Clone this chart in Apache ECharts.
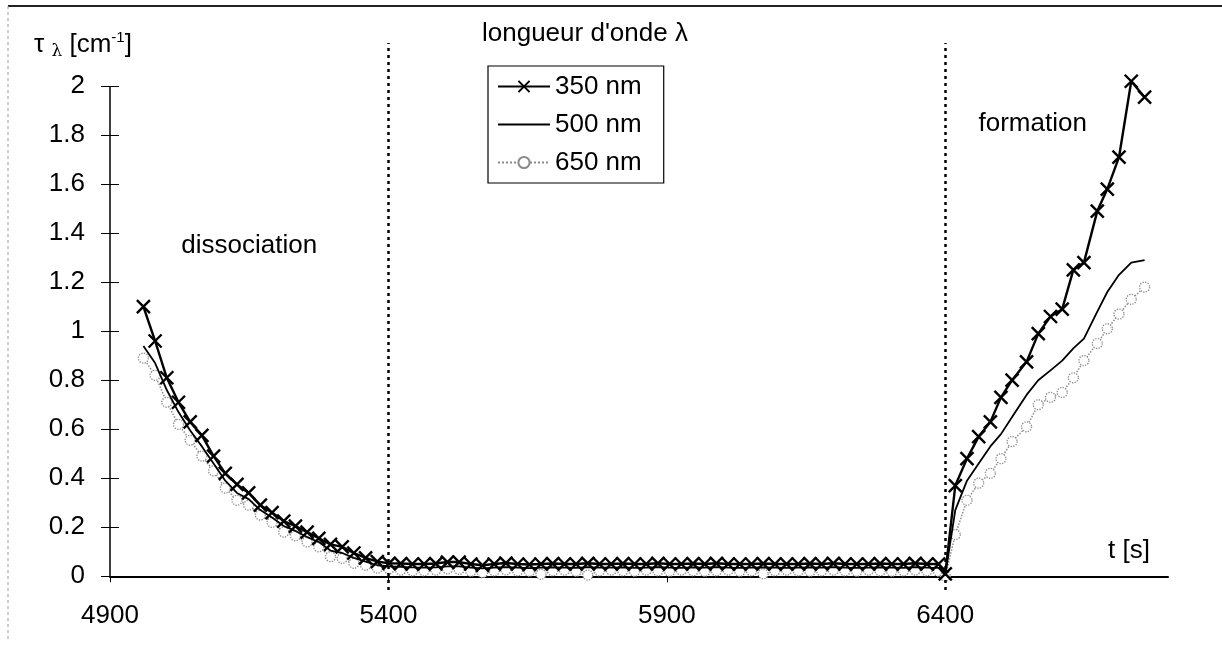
<!DOCTYPE html>
<html>
<head>
<meta charset="utf-8">
<script src="https://cdn.jsdelivr.net/npm/echarts@6/dist/echarts.min.js"></script>
<style>
html,body{margin:0;padding:0;background:#fff;}
#chart{width:1222px;height:652px;}
</style>
</head>
<body>
<div id="chart"></div>
<script>
// ---- data ----
const times = [
  4960,4981,5002,5023,5044,5065,5086,5107,5128,5149,5170,5191,5212,5233,5254,5275,5296,5317,5338,5359,5380,5401,5422,5443,
  5464,5485,5506,5527,5548,5569,5590,5611,5632,5653,
  5674,5695,5716,5737,5758,5779,5800,5821,5842,5863,
  5884,5905,5926,5947,5968,5989,6010,6031,6052,6073,
  6094,6115,6136,6157,6178,6199,6220,6241,6262,6283,
  6304,6325,6346,6367,6388,
  6400,
  6418,6439,6460,6481,6500,6520,6546,6567,6589,6610,6630,6649,6673,6691,6712,6734,6758
];
const v350 = [
  1.10,0.96,0.81,0.71,0.63,0.575,0.49,0.42,0.375,0.34,0.29,0.26,0.225,0.205,0.18,0.155,0.13,0.12,0.095,0.075,0.06,0.053,0.052,0.05,
  0.05,0.052,0.058,0.058,0.05,0.045,0.05,0.054,0.05,0.048,
  0.05,0.052,0.05,0.05,0.053,0.05,0.05,0.052,0.05,0.05,
  0.053,0.05,0.05,0.052,0.05,0.053,0.05,0.05,0.05,0.052,
  0.05,0.05,0.05,0.052,0.05,0.053,0.05,0.05,0.05,0.052,
  0.05,0.05,0.053,0.05,0.05,
  0.01,
  0.37,0.48,0.57,0.63,0.73,0.80,0.875,0.99,1.06,1.09,1.25,1.28,1.49,1.58,1.71,2.02,1.955
];
const v500 = [
  0.94,0.87,0.76,0.67,0.595,0.53,0.46,0.39,0.34,0.315,0.27,0.24,0.205,0.185,0.16,0.14,0.105,0.095,0.075,0.06,0.045,0.04,0.038,0.036,
  0.035,0.036,0.04,0.04,0.035,0.032,0.035,0.037,0.035,0.033,
  0.035,0.036,0.035,0.034,0.037,0.035,0.035,0.036,0.034,0.035,
  0.037,0.035,0.034,0.036,0.035,0.037,0.035,0.034,0.035,0.036,
  0.035,0.034,0.035,0.036,0.035,0.037,0.035,0.034,0.035,0.036,
  0.035,0.034,0.037,0.035,0.034,
  0.005,
  0.27,0.39,0.46,0.53,0.58,0.65,0.74,0.80,0.84,0.88,0.93,0.97,1.08,1.16,1.23,1.28,1.29
];
const v650 = [
  0.89,0.82,0.71,0.62,0.555,0.49,0.43,0.36,0.31,0.29,0.25,0.22,0.18,0.165,0.14,0.12,0.08,0.073,0.053,0.045,0.033,0.03,0.025,0.022,
  0.022,0.025,0.03,0.028,0.02,0.015,0.022,0.026,0.022,0.02,
  0.008,0.022,0.025,0.02,0.005,0.022,0.025,0.022,0.02,0.025,
  0.022,0.02,0.025,0.022,0.02,0.022,0.025,0.02,0.022,0.01,
  0.022,0.025,0.022,0.02,0.022,0.025,0.022,0.02,0.025,0.022,
  0.02,0.022,0.025,0.022,0.02,
  0.0,
  0.17,0.31,0.38,0.42,0.48,0.55,0.61,0.70,0.73,0.75,0.81,0.88,0.95,1.01,1.07,1.13,1.18
];
const seriesNames = ['350 nm', '500 nm', '650 nm'];
const xTicks = [4900, 5400, 5900, 6400];
const yTicks = [0, 0.2, 0.4, 0.6, 0.8, 1, 1.2, 1.4, 1.6, 1.8, 2];
const phaseLines = [5400, 6400];
const titleText = "longueur d'onde λ";
const annotations = ['dissociation', 'formation'];

// ---- chart ----
const FONT = 'Liberation Sans, Arial, sans-serif';
const FS = 26;
const chart = echarts.init(document.getElementById('chart'), null, {renderer: 'canvas'});
const pairs = v => times.map((t, i) => [t, v[i]]);
const gray = '#8a8a8a';
const X_MIN = 4900, X_MAX = 6800, Y_MIN = -0.056, Y_MAX = 2.176;

const option = {
  backgroundColor: '#fff',
  animation: false,
  textStyle: {fontFamily: FONT, color: '#000'},
  title: {
    text: titleText, left: 482, top: 21, padding: 0,
    textStyle: {fontFamily: FONT, fontSize: FS, fontWeight: 'normal', color: '#000'}
  },
  legend: {
    data: seriesNames, orient: 'vertical', left: 488, top: 66,
    padding: [7, 22, 7, 9], itemGap: 11, itemWidth: 52, itemHeight: 14,
    borderColor: '#000', borderWidth: 1.2, backgroundColor: '#fff',
    textStyle: {fontFamily: FONT, fontSize: FS, color: '#000', lineHeight: 27}
  },
  grid: {left: 110, right: 54, top: 43, bottom: 62, containLabel: false},
  xAxis: {
    type: 'value', min: X_MIN, max: X_MAX,
    name: 't [s]', nameLocation: 'end', nameGap: -18,
    nameTextStyle: {fontFamily: FONT, fontSize: FS, color: '#000', align: 'right', verticalAlign: 'bottom', lineHeight: 26, padding: [0, 0, 12, 0]},
    axisLine: {show: true, onZero: true, lineStyle: {color: '#000', width: 2}},
    axisTick: {show: true, length: 6, lineStyle: {color: '#000', width: 1}, customValues: xTicks},
    axisLabel: {fontFamily: FONT, fontSize: FS, color: '#000', margin: 13, customValues: xTicks, formatter: v => String(v)},
    splitLine: {show: false}
  },
  yAxis: [{
    type: 'value', min: Y_MIN, max: Y_MAX,
    axisLine: {show: false},
    axisTick: {show: true, length: 9, lineStyle: {color: '#000', width: 1}, customValues: yTicks},
    axisLabel: {fontFamily: FONT, fontSize: FS, color: '#000', margin: 25, customValues: yTicks, formatter: v => String(v)},
    splitLine: {show: false}
  }, {
    type: 'value', min: Y_MIN, max: Y_MAX, position: 'left',
    axisLine: {show: false},
    axisTick: {show: true, inside: true, length: 9, lineStyle: {color: '#000', width: 1}, customValues: yTicks},
    axisLabel: {show: false},
    splitLine: {show: false}
  }],
  graphic: [
    {type: 'line', shape: {x1: 8, y1: 6, x2: 1222, y2: 6}, style: {stroke: '#222', lineWidth: 2}, silent: true},
    {type: 'line', shape: {x1: 8, y1: 6, x2: 8, y2: 640}, style: {stroke: '#999', lineWidth: 1, lineDash: [3, 3]}, silent: true},
    {
      type: 'text', left: 34, top: 30, silent: true,
      style: {
        text: '{t|τ }{s|λ}{t| [cm}{p|-1}{t|]}',
        rich: {
          t: {fontFamily: FONT, fontSize: FS, lineHeight: 30, verticalAlign: 'middle', fill: '#000'},
          s: {fontFamily: 'DejaVu Serif, serif', fontSize: 17, lineHeight: 30, verticalAlign: 'bottom', fill: '#000'},
          p: {fontFamily: FONT, fontSize: 15, lineHeight: 30, verticalAlign: 'top', fill: '#000'}
        }
      }
    }
  ],
  series: [
    {
      name: seriesNames[0], type: 'line', data: pairs(v350), z: 5, clip: false,
      symbol: 'path://M0,0L10,10M10,0L0,10', symbolSize: 13, showAllSymbol: true,
      itemStyle: {color: '#000', borderColor: '#000', borderWidth: 2.4},
      lineStyle: {color: '#000', width: 2.4}
    },
    {
      name: seriesNames[1], type: 'line', data: pairs(v500), z: 4, clip: false,
      symbol: 'none', itemStyle: {color: '#000', opacity: 0},
      lineStyle: {color: '#000', width: 1.8, opacity: 1},
      markPoint: {
        symbol: 'circle', symbolSize: 0, silent: true,
        itemStyle: {opacity: 1},
        label: {show: true, position: 'inside', fontFamily: FONT, fontSize: FS, color: '#000', formatter: p => p.name},
        data: [
          {name: annotations[0], coord: [5150, 1.35]},
          {name: annotations[1], coord: [6557, 1.845]}
        ]
      },
      markLine: {
        symbol: 'none', silent: true, label: {show: false},
        lineStyle: {color: '#000', width: 2.5, type: [3, 4], opacity: 1},
        data: phaseLines.map(x => [{coord: [x, Y_MIN]}, {coord: [x, Y_MAX]}]).concat([
          [{coord: [X_MIN, 0], lineStyle: {type: 'solid', width: 1.5}}, {coord: [X_MIN, 2]}]
        ])
      }
    },
    {
      name: seriesNames[2], type: 'line', data: pairs(v650), z: 3, clip: false,
      symbol: 'circle', symbolSize: 10, showAllSymbol: true,
      itemStyle: {color: '#fff', borderColor: gray, borderWidth: 1.3, borderType: 'dotted'},
      lineStyle: {color: gray, width: 1.5, type: 'dotted'}
    }
  ]
};
chart.setOption(option);
</script>
</body>
</html>
